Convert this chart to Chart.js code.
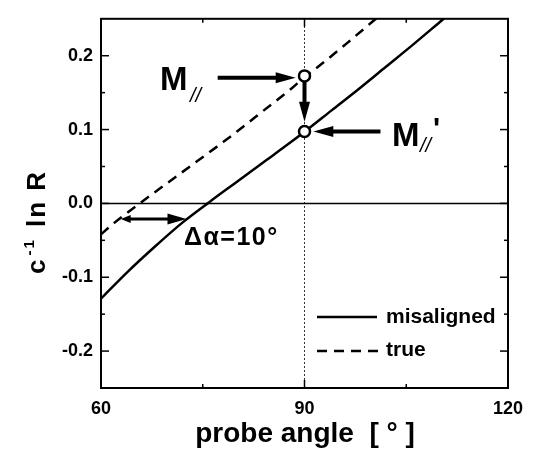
<!DOCTYPE html>
<html><head><meta charset="utf-8">
<style>html,body{margin:0;padding:0;background:#fff}canvas{display:block}</style>
<script src="https://cdn.jsdelivr.net/npm/chart.js@4"></script>
</head><body>
<canvas id="c" width="534" height="454"></canvas>
<script>
// ---- data ----
const xMis = [60, 64, 68, 72, 76, 80, 84, 88, 90, 94, 98, 102, 106, 110, 114];
const yMis = [-0.129, -0.092, -0.058, -0.026, 0.002, 0.029, 0.056, 0.083, 0.097, 0.126, 0.155, 0.185, 0.215, 0.246, 0.277];
const xTrue = [60, 62, 66, 70, 74, 78, 80, 84, 88, 90, 92, 96, 100, 104];
const yTrue = [-0.042, -0.026, 0.002, 0.029, 0.056, 0.083, 0.097, 0.126, 0.155, 0.171, 0.185, 0.215, 0.246, 0.277];
const markX = [90, 90];
const markY = [0.1727, 0.0973];
const xTicks = [60, 90, 120];
const xMinor = [75, 105];
const yTicks = [-0.2, -0.1, 0.0, 0.1, 0.2];
const yMinor = [-0.15, -0.05, 0.05, 0.15];
const seriesNames = ['misaligned', 'true'];
const xTitle = 'probe angle  [ \u00B0 ]';
// arrows in data units: [x1, y1, x2, y2]
const arrowM = [77.2, 0.170, 88.7, 0.170];
const arrowDown = [90, 0.165, 90, 0.1105];
const arrowMp = [101.2, 0.0974, 91.3, 0.0974];
const arrowDa = [62.9, -0.0212, 72.6, -0.0212];
const labelDa = 'Δα=10°';

const FONT = "'Liberation Sans', Arial, Helvetica, sans-serif";

const pts = (xs, ys) => xs.map((x, i) => ({x, y: ys[i]}));

const overlay = {
  id: 'overlay',
  afterDraw(chart) {
    const ctx = chart.ctx, xs = chart.scales.x, ys = chart.scales.y, a = chart.chartArea;
    const px = v => xs.getPixelForValue(v), py = v => ys.getPixelForValue(v);
    ctx.save();
    ctx.strokeStyle = '#000'; ctx.fillStyle = '#000';
    // frame
    ctx.lineWidth = 2;
    ctx.strokeRect(a.left, a.top, a.right - a.left, a.bottom - a.top);
    // inward ticks
    ctx.lineWidth = 1.5;
    const tick = (x1, y1, x2, y2) => { ctx.beginPath(); ctx.moveTo(x1, y1); ctx.lineTo(x2, y2); ctx.stroke(); };
    xTicks.forEach(v => { const p = px(v); tick(p, a.bottom, p, a.bottom - 8); tick(p, a.top, p, a.top + 8); });
    xMinor.forEach(v => { const p = px(v); tick(p, a.bottom, p, a.bottom - 4); tick(p, a.top, p, a.top + 4); });
    yTicks.forEach(v => { const p = py(v); tick(a.left, p, a.left + 8, p); tick(a.right, p, a.right - 8, p); });
    yMinor.forEach(v => { const p = py(v); tick(a.left, p, a.left + 4, p); tick(a.right, p, a.right - 4, p); });

    // arrows
    function head(xt, yt, ang, len, hw) {
      ctx.beginPath();
      ctx.moveTo(xt, yt);
      ctx.lineTo(xt - len * Math.cos(ang) + hw * Math.sin(ang), yt - len * Math.sin(ang) - hw * Math.cos(ang));
      ctx.lineTo(xt - len * Math.cos(ang) - hw * Math.sin(ang), yt - len * Math.sin(ang) + hw * Math.cos(ang));
      ctx.closePath(); ctx.fill();
    }
    function arrow(d, lw, len, hw, dbl, len2, hw2) {
      const x1 = px(d[0]), y1 = py(d[1]), x2 = px(d[2]), y2 = py(d[3]);
      const ang = Math.atan2(y2 - y1, x2 - x1);
      const sx = dbl ? x1 + len2 * 0.6 * Math.cos(ang) : x1, sy = dbl ? y1 + len2 * 0.6 * Math.sin(ang) : y1;
      ctx.lineWidth = lw; ctx.lineCap = 'butt';
      ctx.beginPath(); ctx.moveTo(sx, sy);
      ctx.lineTo(x2 - len * 0.6 * Math.cos(ang), y2 - len * 0.6 * Math.sin(ang)); ctx.stroke();
      head(x2, y2, ang, len, hw);
      if (dbl) head(x1, y1, ang + Math.PI, len2, hw2);
    }
    arrow(arrowM, 4, 20, 5.5);
    arrow(arrowDown, 4, 20, 5.5);
    arrow(arrowMp, 4, 20, 5.5);
    arrow(arrowDa, 3, 19, 5.5, true, 10, 4);

    // labels
    ctx.textBaseline = 'alphabetic'; ctx.textAlign = 'left';
    ctx.font = `bold 33px ${FONT}`;
    ctx.fillText('M', 160, 90);
    ctx.fillText('M', 392, 146);
    ctx.font = `italic 20px ${FONT}`;
    ctx.fillText('//', 190, 102);
    ctx.fillText('//', 420, 152);
    ctx.font = `bold 30px ${FONT}`;
    ctx.fillText("'", 433, 138);

    ctx.font = `bold 25px ${FONT}`;
    ctx.letterSpacing = '1.5px';
    ctx.fillText(labelDa, 184, 245);
    ctx.letterSpacing = '0px';

    // legend
    ctx.lineWidth = 2.5;
    ctx.beginPath(); ctx.moveTo(317, 317); ctx.lineTo(377, 317); ctx.stroke();
    ctx.setLineDash([10, 7]);
    ctx.beginPath(); ctx.moveTo(317, 351); ctx.lineTo(381, 351); ctx.stroke();
    ctx.setLineDash([]);
    ctx.font = `bold 21px ${FONT}`;
    ctx.textBaseline = 'middle';
    ctx.fillText(seriesNames[0], 386, 317);
    ctx.fillText(seriesNames[1], 386, 350);

    // x title
    ctx.textBaseline = 'alphabetic'; ctx.textAlign = 'center';
    ctx.font = `bold 28px ${FONT}`;
    ctx.fillText(xTitle, 305, 442);

    // y title (rotated)
    ctx.translate(45, 221); ctx.rotate(-Math.PI / 2);
    ctx.textAlign = 'left';
    ctx.letterSpacing = '2px';
    const parts = [['c', 26, 0], ['-1', 15, 11], [' ln R', 26, 0]];
    let tot = 0;
    parts.forEach(p => { ctx.font = `bold ${p[1]}px ${FONT}`; tot += ctx.measureText(p[0]).width + 2; });
    let cx = -tot / 2;
    parts.forEach(p => { ctx.font = `bold ${p[1]}px ${FONT}`; ctx.fillText(p[0], cx, -p[2]); cx += ctx.measureText(p[0]).width + 2; });
    ctx.restore();
  }
};

new Chart(document.getElementById('c'), {
  type: 'line',
  data: {
    datasets: [
      { label: 'markers', type: 'scatter', data: pts(markX, markY), pointRadius: 5.5, pointBorderWidth: 2.5,
        pointBackgroundColor: '#fff', pointBorderColor: '#000', showLine: false, order: 0 },
      { label: seriesNames[0], data: pts(xMis, yMis), borderColor: '#000', borderWidth: 2.5, pointRadius: 0,
        cubicInterpolationMode: 'monotone', fill: false, order: 1 },
      { label: seriesNames[1], data: pts(xTrue, yTrue), borderColor: '#000', borderWidth: 2.5, pointRadius: 0,
        borderDash: [10, 7], cubicInterpolationMode: 'monotone', fill: false, order: 1 },
      { label: 'zero', data: [{x: 60, y: 0}, {x: 120, y: 0}], borderColor: '#000', borderWidth: 1.5, pointRadius: 0, order: 2 },
      { label: 'ref', data: [{x: 90, y: -0.25}, {x: 90, y: 0.25}], borderColor: '#333', borderWidth: 1,
        borderDash: [2, 2], pointRadius: 0, order: 2 }
    ]
  },
  options: {
    responsive: false, animation: false, devicePixelRatio: 1,
    layout: { padding: { top: 11, right: 26, left: 0, bottom: 0 } },
    plugins: { legend: { display: false }, tooltip: { enabled: false } },
    scales: {
      x: {
        type: 'linear', min: 60, max: 120,
        afterBuildTicks: s => { s.ticks = xTicks.map(v => ({value: v})); },
        afterFit: s => { s.height = 66; },
        ticks: { font: { family: FONT, size: 18, weight: 'bold' }, color: '#000', padding: 10, maxRotation: 0, autoSkip: false },
        grid: { display: false, drawTicks: false }, border: { display: false }
      },
      y: {
        type: 'linear', min: -0.25, max: 0.25,
        afterBuildTicks: s => { s.ticks = yTicks.map(v => ({value: v})); },
        afterFit: s => { s.width = 101; },
        ticks: { font: { family: FONT, size: 18, weight: 'bold' }, color: '#000', padding: 8,
          callback: v => Number(v).toFixed(1) },
        grid: { display: false, drawTicks: false }, border: { display: false }
      }
    }
  },
  plugins: [overlay]
});
</script>
</body></html>
